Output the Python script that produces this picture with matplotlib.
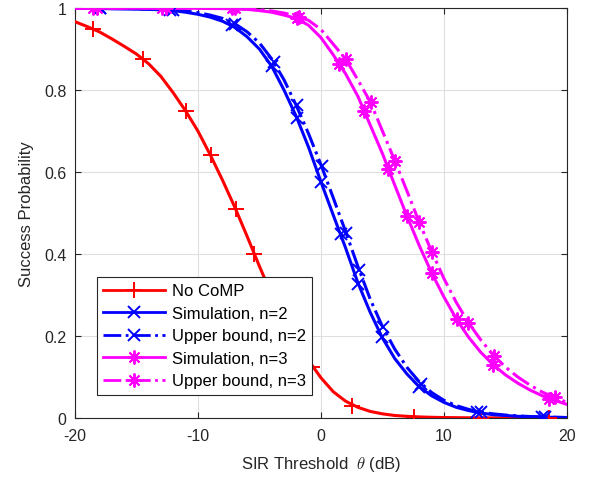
import numpy as np
import matplotlib
matplotlib.use('Agg')
import matplotlib.pyplot as plt
from matplotlib.lines import Line2D

plt.rcParams['font.family'] = ['Liberation Sans', 'DejaVu Sans']
plt.rcParams['mathtext.fontset'] = 'cm'
plt.rcParams['axes.unicode_minus'] = False

#curve values read every 1 dB from -20 to 20
theta = list(range(-20, 21))

no_comp = [0.967, 0.955, 0.942, 0.925, 0.907, 0.888, 0.864, 0.833, 0.793, 0.749,
           0.700, 0.642, 0.580, 0.514, 0.443, 0.370, 0.300, 0.240, 0.186, 0.140,
           0.098, 0.064, 0.041, 0.026, 0.016, 0.010, 0.006, 0.004, 0.0025, 0.0016,
           0.001, 0.0007, 0.0004, 0.0003, 0.0002, 0.0001, 0.0001, 0.0, 0.0, 0.0, 0.0]

sim_n2 = [1.0, 0.9995, 0.999, 0.9985, 0.998, 0.9975, 0.997, 0.996, 0.994, 0.990,
          0.985, 0.978, 0.968, 0.953, 0.930, 0.900, 0.858, 0.800, 0.735, 0.660,
          0.576, 0.495, 0.415, 0.330, 0.258, 0.195, 0.145, 0.107, 0.076, 0.054,
          0.038, 0.026, 0.018, 0.012, 0.008, 0.006, 0.004, 0.003, 0.002, 0.0015, 0.001]

ub_n2 = [1.0, 0.9998, 0.9995, 0.999, 0.999, 0.9985, 0.998, 0.997, 0.996, 0.993,
         0.989, 0.983, 0.975, 0.962, 0.942, 0.915, 0.876, 0.825, 0.762, 0.693,
         0.618, 0.537, 0.455, 0.370, 0.290, 0.223, 0.168, 0.123, 0.088, 0.062,
         0.043, 0.030, 0.021, 0.014, 0.010, 0.007, 0.005, 0.0035, 0.0025, 0.0017, 0.001]

sim_n3 = [1.0, 1.0, 1.0, 1.0, 1.0, 1.0, 1.0, 1.0, 1.0, 1.0,
          0.9995, 0.999, 0.999, 0.998, 0.997, 0.994, 0.990, 0.983, 0.975, 0.958,
          0.928, 0.886, 0.840, 0.785, 0.715, 0.645, 0.568, 0.492, 0.420, 0.354,
          0.295, 0.242, 0.197, 0.160, 0.130, 0.105, 0.085, 0.068, 0.054, 0.043, 0.033]

ub_n3 = [1.0, 1.0, 1.0, 1.0, 1.0, 1.0, 1.0, 1.0, 1.0, 1.0,
         1.0, 0.9995, 0.999, 0.999, 0.998, 0.996, 0.993, 0.988, 0.981, 0.970,
         0.948, 0.912, 0.876, 0.825, 0.772, 0.700, 0.628, 0.553, 0.477, 0.406,
         0.340, 0.282, 0.232, 0.190, 0.154, 0.124, 0.100, 0.080, 0.063, 0.050, 0.038]

#marker positions
mk_no_comp_x = [-18.5, -14.45, -10.98, -8.97, -6.94, -5.45, -0.7, 2.5, 7.56, 13.0, 18.5]
mk_no_comp_y = [0.95, 0.877, 0.748, 0.641, 0.510, 0.400, 0.124, 0.030, 0.003, 0.0, 0.0]

mk_sim_n2_x = [-18.0, -12.3, -7.26, -4.0, -1.93, 0.0, 1.6, 3.0, 4.93, 8.0, 12.66, 18.0]
mk_sim_n2_y = [1.0, 0.995, 0.958, 0.858, 0.731, 0.576, 0.449, 0.327, 0.197, 0.075, 0.014, 0.002]

mk_ub_n2_x = [-18.0, -12.0, -7.0, -3.8, -1.98, 0.05, 2.03, 3.1, 5.07, 8.13, 13.0, 18.2]
mk_ub_n2_y = [1.0, 0.996, 0.962, 0.868, 0.763, 0.615, 0.452, 0.362, 0.221, 0.083, 0.014, 0.002]

mk_sim_n3_x = [-18.5, -12.9, -7.26, -1.98, 1.5, 3.5, 5.47, 7.0, 9.0, 11.03, 13.96, 18.56]
mk_sim_n3_y = [1.0, 1.0, 1.0, 0.975, 0.863, 0.750, 0.607, 0.492, 0.354, 0.241, 0.130, 0.046]

mk_ub_n3_x = [-18.2, -12.6, -7.0, -1.8, 2.03, 4.04, 6.0, 8.0, 9.0, 11.98, 14.06, 19.0]
mk_ub_n3_y = [1.0, 1.0, 1.0, 0.978, 0.876, 0.770, 0.628, 0.477, 0.406, 0.232, 0.152, 0.050]

labels = ['No CoMP', 'Simulation, n=2', 'Upper bound, n=2', 'Simulation, n=3', 'Upper bound, n=3']

fig = plt.figure(figsize=(5.9, 4.81), dpi=100)
ax = fig.add_axes([0.127, 0.129, 0.834, 0.852])

star = (8, 2, 0)
series = [
    (no_comp, mk_no_comp_x, mk_no_comp_y, 'red', '-', '+', 11),
    (sim_n2, mk_sim_n2_x, mk_sim_n2_y, 'blue', '-', 'x', 8),
    (ub_n2, mk_ub_n2_x, mk_ub_n2_y, 'blue', '-.', 'x', 8),
    (sim_n3, mk_sim_n3_x, mk_sim_n3_y, 'magenta', '-', star, 10),
    (ub_n3, mk_ub_n3_x, mk_ub_n3_y, 'magenta', '-.', star, 10),
]

handles = []
for (vals, mx, my, c, ls, mk, ms), lab in zip(series, labels):
    ax.plot(theta, vals, color=c, ls=ls, lw=2.2, zorder=3)
    ax.plot(mx, my, ls='none', marker=mk, ms=ms, mew=1.4, color=c, zorder=4)
    handles.append(Line2D([], [], color=c, ls=ls, lw=2.0, marker=mk, ms=ms, mew=1.4))

ax.set_xlim(-20, 20)
ax.set_ylim(0, 1)
ax.set_xticks([-20, -10, 0, 10, 20])
ax.set_yticks([0, 0.2, 0.4, 0.6, 0.8, 1.0])
ax.set_yticklabels(['0', '0.2', '0.4', '0.6', '0.8', '1'])
ax.grid(True, color='#dfdfdf', lw=0.8)
ax.set_axisbelow(True)
ax.tick_params(direction='in', top=True, right=True, labelsize=11.5, colors='#262626', length=4)
ax.tick_params(axis='x', pad=7)
ax.tick_params(axis='y', pad=6)
for s in ax.spines.values():
    s.set_color('#262626')
    s.set_linewidth(0.8)

ax.set_xlabel('SIR Threshold  $\\theta$ (dB)', fontsize=12, color='#262626', labelpad=8)
ax.set_ylabel('Success Probability', fontsize=12, color='#262626', labelpad=7)

leg = ax.legend(handles, labels, loc='lower left', bbox_to_anchor=(0.044, 0.056),
                borderaxespad=0, fontsize=12, handlelength=3.7, handletextpad=0.4,
                fancybox=False, framealpha=1, edgecolor='#262626',
                labelspacing=0.45, borderpad=0.4)
leg.get_frame().set_linewidth(0.8)
leg.set_zorder(10)

plt.savefig('out.png', dpi=100)
